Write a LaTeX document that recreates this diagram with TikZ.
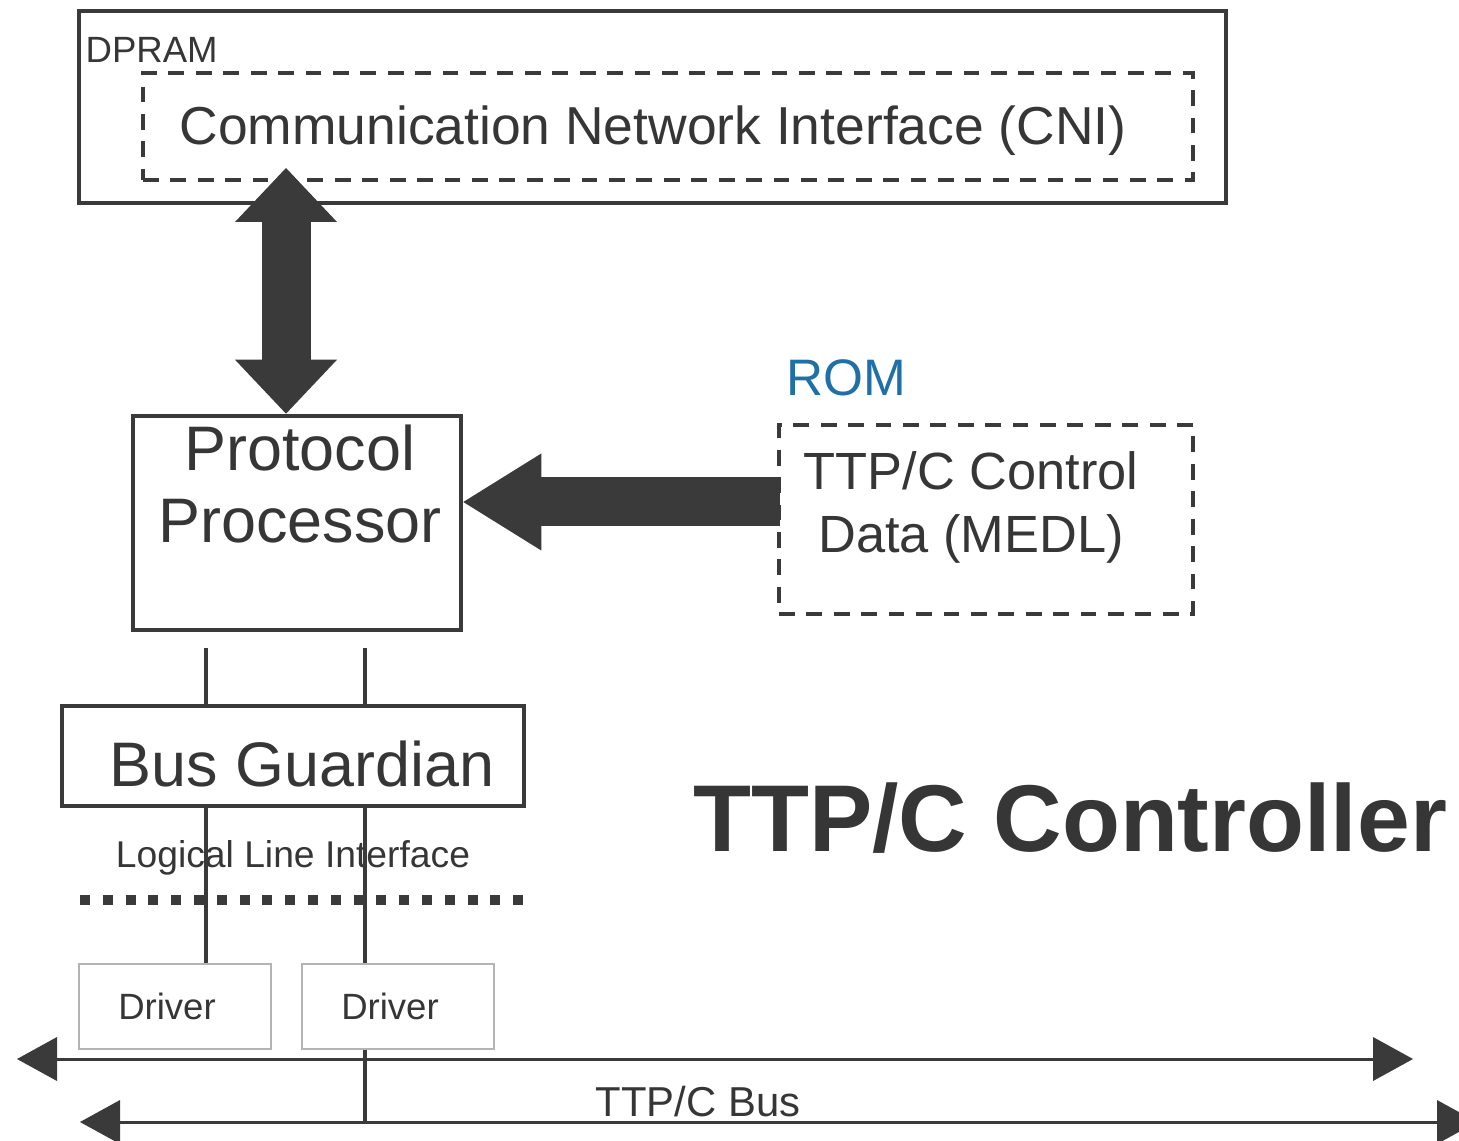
\documentclass[tikz,border=0pt]{standalone}
\usepackage{fontspec}
\setmainfont{Liberation Sans}
\usepackage{xcolor}
\usepackage{tikz}
\usetikzlibrary{arrows.meta}
\definecolor{ink}{HTML}{3A3A3A}
\definecolor{txt}{HTML}{363636}
\definecolor{romblue}{HTML}{1F6FA8}
\definecolor{light}{HTML}{B4B4B4}
\tikzset{
  solidbox/.style={draw=ink, line width=0.9pt, inner sep=0pt},
  thickbox/.style={draw=ink, line width=1.3pt, inner sep=0pt},
  dashbox/.style={draw=ink, line width=0.9pt, dash pattern=on 4.5pt off 3.3pt, inner sep=0pt},
  drvbox/.style={draw=light, line width=0.6pt, minimum width=1.92cm, minimum height=0.85cm,
    inner sep=0pt, text=txt, font=\fontsize{10.4}{12}\selectfont},
  lab/.style={text=txt, inner sep=0pt},
  wire/.style={draw=ink, line width=0.9pt},
  bustip/.tip={Triangle[length=0.40cm, width=0.44cm, line width=0pt]},
  busline/.style={draw=ink, line width=0.85pt, bustip-bustip},
  fatarrow/.style={draw=ink, line width=0.49cm}
}

\begin{document}
\begin{tikzpicture}
  \useasboundingbox (0,0) rectangle (14.59,11.40);

  % DPRAM with the CNI inside
  \node[solidbox, minimum width=11.47cm, minimum height=1.92cm] (dpram) at (6.525,10.33) {};
  \node[lab, anchor=west, font=\fontsize{10.4}{12}\selectfont] (dpramlab) at (0.85,10.90) {DPRAM};
  \node[dashbox, minimum width=10.5cm, minimum height=1.07cm] (cni) at (6.68,10.135) {};
  \node[lab, font=\fontsize{15.2}{17}\selectfont] (cnilab) at (6.53,10.09) {Communication Network Interface (CNI)};

  % protocol processor
  \node[thickbox, minimum width=3.28cm, minimum height=2.14cm] (pp) at (2.97,6.17) {};
  \node[lab, align=center, font=\fontsize{17.9}{20.5}\selectfont] (pplab) at (3.00,6.56) {Protocol\\Processor};

  % ROM with the MEDL
  \node[lab, text=romblue, font=\fontsize{14.6}{17}\selectfont] (rom) at (8.46,7.62) {ROM};
  \node[dashbox, minimum width=4.14cm, minimum height=1.89cm] (medl) at (9.86,6.205) {};
  \node[lab, align=center, font=\fontsize{14.9}{17.9}\selectfont] (medllab) at (9.71,6.33) {TTP/C Control\\Data (MEDL)};

  % bus guardian and drivers
  \node[thickbox, minimum width=4.62cm, minimum height=1.0cm] (bg) at (2.93,3.84) {};
  \node[lab, font=\fontsize{17.9}{20}\selectfont] (bglab) at (3.02,3.76) {Bus Guardian};
  \node[lab, font=\fontsize{10.6}{12}\selectfont] (lli) at (2.93,2.82) {Logical Line Interface};
  \node[drvbox] (drv1) at (1.75,1.335) {Driver\hspace*{0.16cm}};
  \node[drvbox] (drv2) at (3.98,1.335) {Driver\hspace*{0.16cm}};

  \node[lab, font=\bfseries\fontsize{27}{30}\selectfont] (title) at (10.70,3.22) {TTP/C Controller};
  \node[lab, font=\fontsize{11.9}{14}\selectfont] (buslab) at (6.98,0.38) {TTP/C Bus};

  % thick arrows
  \coordinate (cnitip) at (2.86,9.72);
  \draw[fatarrow, {Triangle[length=0.54cm, width=1.02cm, line width=0pt]}-{Triangle[length=0.54cm, width=1.02cm, line width=0pt]}]
    (cnitip) -- (cnitip |- pp.north);
  \coordinate (medltail) at (7.80,6.38);
  \draw[fatarrow, -{Triangle[length=0.78cm, width=0.97cm, line width=0pt]}] (medltail) -- (medltail -| pp.east);

  % wires
  \coordinate (w1) at (2.06,4.92);
  \coordinate (w2) at (3.65,4.92);
  \draw[wire] (w1) -- (w1 |- bg.north);
  \draw[wire] (w2) -- (w2 |- bg.north);
  \draw[wire] (w1 |- bg.south) -- (w1 |- drv1.north);
  \draw[wire] (w2 |- bg.south) -- (w2 |- drv2.north);

  % logical line
  \coordinate (dotl) at (0.80,2.40);
  \coordinate (dotr) at (5.25,2.40);
  \draw[ink, line width=0.1cm, dash pattern=on 0.1cm off 0.128cm] (dotl) -- (dotr);

  % bus
  \coordinate (bus1l) at (0.17,0.81);
  \coordinate (bus1r) at (14.13,0.81);
  \coordinate (bus2l) at (0.80,0.18);
  \coordinate (bus2r) at (14.77,0.18);
  \draw[busline] (bus1l) -- (bus1r);
  \draw[busline] (bus2l) -- (bus2r);
  \draw[wire] (w2 |- drv2.south) -- (w2 |- bus2l);
\end{tikzpicture}
\end{document}
